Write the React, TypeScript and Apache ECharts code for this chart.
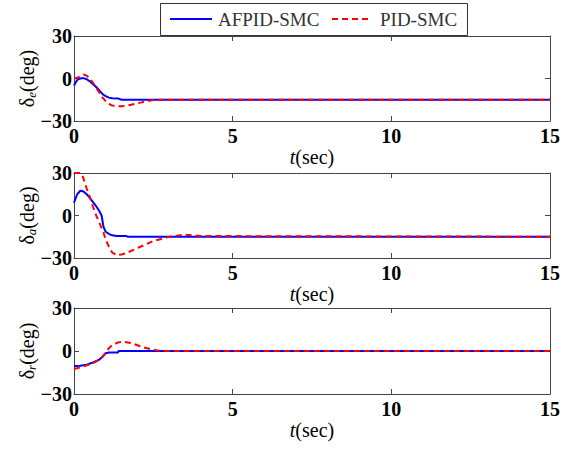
import React, { useEffect, useRef } from "react";
import * as echarts from "echarts";

// ---- Data ----
const xTicks = [0, 5, 10, 15];
const yTicks = [-30, 0, 30];

// Panel 1: delta_e
const tE = [0, 0.1, 0.2, 0.3, 0.4, 0.5, 0.6, 0.7, 0.8, 0.9, 1.0, 1.1, 1.2, 1.4, 1.5, 1.6, 1.8, 2.0, 2.2, 2.4, 2.6, 3, 15];
const eAfpid = [-5, -1, 0, 0.3, -0.5, -2, -4, -6, -8.5, -11, -12.5, -13.5, -14, -14.2, -15, -15, -15, -15, -15, -15, -15, -15, -15];
const ePid = [0, 0.5, 1.5, 2.8, 2, 0, -3, -6.5, -10, -13.5, -16, -18, -19, -19.6, -19.6, -19.3, -18.5, -17.5, -16.5, -15.6, -15, -15, -15];

// Panel 2: delta_a
const tA = [0, 0.1, 0.2, 0.25, 0.3, 0.4, 0.5, 0.6, 0.7, 0.8, 0.87, 0.93, 1.0, 1.1, 1.2, 1.35, 1.5, 1.65, 1.7, 2, 2.5, 3, 3.5, 4, 15];
const aAfpid = [9, 15, 17.5, 17.3, 17, 15, 12.5, 9.5, 6.5, 3, 0, -8, -11.5, -13, -14, -14.5, -14.5, -14.5, -15, -15, -15, -15, -15, -15, -15];
const aPid = [30, 30, 30, 29, 26, 19, 13, 6, 0, -5, -9, -12, -17, -22, -26, -28, -27.5, -26.5, -26, -23, -18, -15, -13.5, -14.5, -15];

// Panel 3: delta_r
const tR = [0, 0.2, 0.4, 0.6, 0.8, 0.9, 1.0, 1.1, 1.2, 1.39, 1.4, 1.56, 1.8, 2.0, 2.2, 2.4, 2.6, 2.8, 15];
const rAfpid = [-10.5, -10.3, -9.5, -8, -6, -4, -1.5, -1, -1, -1, 0, 0, 0, 0, 0, 0, 0, 0, 0];
const rPid = [-12.5, -11.5, -10, -8.5, -6, -4, -1, 2, 4, 6, 6.1, 6.5, 5.5, 4, 2.5, 1.3, 0.5, 0, 0];

const seriesNames = ["AFPID-SMC", "PID-SMC"];
const seriesColors = ["#0000ff", "#ff0000"];
const yNames = ["e", "a", "r"];
const xName = "t";

const zip = (t: number[], v: number[]) => t.map((x, i) => [x, v[i]]);

const SERIF = "Liberation Serif, serif";
const AXIS_COLOR = "#444";

export default function App() {
  const ref = useRef<HTMLDivElement>(null);

  useEffect(() => {
    if (!ref.current) return;
    const chart = echarts.init(ref.current, undefined, { renderer: "svg" });

    const grids = [
      { left: 74, right: 21, top: 36, height: 85 },
      { left: 74, right: 21, top: 173, height: 85 },
      { left: 74, right: 21, top: 308, height: 86 },
    ];

    const lineCommon = { show: true, onZero: false, lineStyle: { color: AXIS_COLOR, width: 1 } };
    const tickCommon = { show: true, inside: true, length: 5, lineStyle: { color: AXIS_COLOR } };

    const xAxes: any[] = [];
    const yAxes: any[] = [];
    grids.forEach((_, gi) => {
      xAxes.push({
        type: "value",
        gridIndex: gi,
        position: "bottom",
        min: xTicks[0],
        max: xTicks[xTicks.length - 1],
        interval: 5,
        name: `{i|${xName}}{n|(sec)}`,
        nameLocation: "middle",
        nameGap: 25,
        nameTextStyle: {
          fontFamily: SERIF,
          fontSize: 20,
          color: "#000",
          rich: {
            i: { fontFamily: SERIF, fontSize: 20, fontStyle: "italic", color: "#000" },
            n: { fontFamily: SERIF, fontSize: 20, color: "#000" },
          },
        },
        axisLine: lineCommon,
        axisTick: tickCommon,
        axisLabel: { show: true, margin: 5, fontFamily: SERIF, fontWeight: "bold", fontSize: 20, color: "#000" },
        splitLine: { show: false },
      });
      xAxes.push({
        type: "value",
        gridIndex: gi,
        position: "top",
        min: xTicks[0],
        max: xTicks[xTicks.length - 1],
        interval: 5,
        axisLine: lineCommon,
        axisTick: tickCommon,
        axisLabel: { show: false },
        splitLine: { show: false },
      });
      yAxes.push({
        type: "value",
        gridIndex: gi,
        position: "left",
        min: yTicks[0],
        max: yTicks[yTicks.length - 1],
        interval: 30,
        name: `{n|δ}{s|${yNames[gi]}}{n|(deg)}`,
        nameLocation: "middle",
        nameRotate: 90,
        nameGap: 36,
        nameMoveOverlap: false,
        nameTextStyle: {
          fontFamily: SERIF,
          fontSize: 20,
          color: "#000",
          rich: {
            n: { fontFamily: SERIF, fontSize: 20, color: "#000", lineHeight: 22 },
            s: { fontFamily: SERIF, fontSize: 13, fontStyle: "italic", color: "#000", lineHeight: 22, verticalAlign: "bottom", padding: [7, 0, 0, 0] },
          },
        },
        axisLine: lineCommon,
        axisTick: tickCommon,
        axisLabel: {
          show: true,
          margin: 2,
          fontFamily: SERIF,
          fontWeight: "bold",
          fontSize: 20,
          color: "#000",
          formatter: (v: number) => (v < 0 ? "\u2212" + Math.abs(v) : String(v)),
        },
        splitLine: { show: false },
      });
      yAxes.push({
        type: "value",
        gridIndex: gi,
        position: "right",
        min: yTicks[0],
        max: yTicks[yTicks.length - 1],
        interval: 30,
        axisLine: lineCommon,
        axisTick: tickCommon,
        axisLabel: { show: false },
        splitLine: { show: false },
      });
    });

    const panels = [
      { t: tE, a: eAfpid, p: ePid },
      { t: tA, a: aAfpid, p: aPid },
      { t: tR, a: rAfpid, p: rPid },
    ];

    const series: any[] = [];
    panels.forEach((pn, gi) => {
      series.push({
        name: seriesNames[0],
        type: "line",
        xAxisIndex: gi * 2,
        yAxisIndex: gi * 2,
        data: zip(pn.t, pn.a),
        showSymbol: false,
        symbol: "none",
        clip: true,
        lineStyle: { color: seriesColors[0], width: 2 },
        itemStyle: { color: seriesColors[0] },
      });
      series.push({
        name: seriesNames[1],
        type: "line",
        xAxisIndex: gi * 2,
        yAxisIndex: gi * 2,
        data: zip(pn.t, pn.p),
        showSymbol: false,
        symbol: "none",
        clip: true,
        lineStyle: { color: seriesColors[1], width: 2, type: [6, 4] },
        itemStyle: { color: seriesColors[1] },
      });
    });

    // Legend box drawn as graphic elements (MATLAB style)
    const legendGraphic: any[] = [
      {
        type: "rect",
        shape: { x: 160.5, y: 3.5, width: 307, height: 32 },
        style: { fill: "#fff", stroke: "#333", lineWidth: 1 },
        z: 100,
      },
      {
        type: "line",
        shape: { x1: 170, y1: 19, x2: 212, y2: 19 },
        style: { stroke: seriesColors[0], lineWidth: 2 },
        z: 101,
      },
      {
        type: "text",
        x: 218,
        y: 19,
        style: { text: seriesNames[0], fontFamily: SERIF, fontSize: 19, fill: "#333", verticalAlign: "middle", align: "left" },
        z: 101,
      },
      {
        type: "line",
        shape: { x1: 332, y1: 19, x2: 372, y2: 19 },
        style: { stroke: seriesColors[1], lineWidth: 2, lineDash: [6, 4] },
        z: 101,
      },
      {
        type: "text",
        x: 380,
        y: 19,
        style: { text: seriesNames[1], fontFamily: SERIF, fontSize: 19, fill: "#333", verticalAlign: "middle", align: "left" },
        z: 101,
      },
    ];

    chart.setOption({
      animation: false,
      backgroundColor: "#fff",
      grid: grids,
      xAxis: xAxes,
      yAxis: yAxes,
      graphic: legendGraphic,
      series,
    });

    return () => chart.dispose();
  }, []);

  return (
    <div
      ref={ref}
      style={{ position: "fixed", left: 0, top: 0, width: 571, height: 449, background: "#fff" }}
    />
  );
}
